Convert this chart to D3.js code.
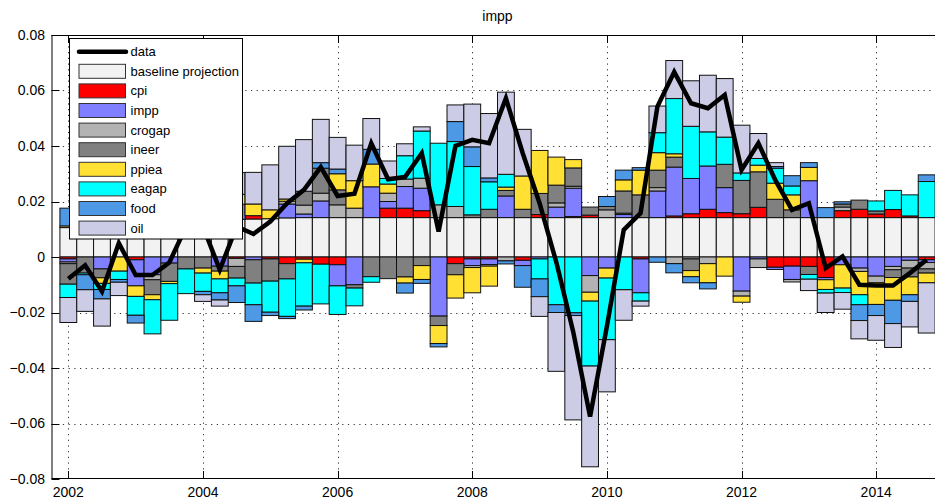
<!DOCTYPE html>
<html>
<head>
<meta charset="utf-8">
<script src="https://cdn.jsdelivr.net/npm/d3@7"></script>
<style>
  body { margin: 0; background: #fff; }
  text { font-family: "Liberation Sans", Arial, sans-serif; fill: #000; }
</style>
</head>
<body>
<div id="chart"></div>
<script>
const quarters = [
  '2002Q1','2002Q2','2002Q3','2002Q4','2003Q1','2003Q2','2003Q3','2003Q4',
  '2004Q1','2004Q2','2004Q3','2004Q4','2005Q1','2005Q2','2005Q3','2005Q4',
  '2006Q1','2006Q2','2006Q3','2006Q4','2007Q1','2007Q2','2007Q3','2007Q4',
  '2008Q1','2008Q2','2008Q3','2008Q4','2009Q1','2009Q2','2009Q3','2009Q4',
  '2010Q1','2010Q2','2010Q3','2010Q4','2011Q1','2011Q2','2011Q3','2011Q4',
  '2012Q1','2012Q2','2012Q3','2012Q4','2013Q1','2013Q2','2013Q3','2013Q4',
  '2014Q1','2014Q2','2014Q3','2014Q4'
];

const baseline = [0.0106,0.011,0.0115,0.012,0.0124,0.0127,0.013,0.0132,0.0134,0.0135,0.0136,0.0137,0.0138,0.0141,
  0.0142,0.0142,0.0142,0.0142,0.0142,0.0142,0.0142,0.0142,0.0142,0.0142,0.0142,0.0142,0.0142,0.0142,0.0142,0.0142,
  0.0142,0.0142,0.0142,0.0142,0.0142,0.0142,0.0142,0.0142,0.0142,0.0142,0.0142,0.0142,0.0142,0.0142,0.0142,0.0142,
  0.0142,0.0142,0.0142,0.0142,0.0142,0.0142];
const cpi = [-0.0007,0,0.0005,0,-0.001,0,0,0,0.0026,0.0005,-0.0005,0.0012,-0.0007,-0.0024,-0.0008,-0.0026,
  -0.0028,0,0,0.0034,0.0034,0.0025,0,-0.0024,-0.0007,-0.0007,0,-0.0012,0.0011,0,0.0004,0.0009,
  0,0,-0.0007,0,0.0006,0.0014,0.003,0.0018,0.0014,0.0037,-0.0037,-0.0033,-0.0034,-0.0074,0.0025,0.003,
  0.0013,0.0029,0.0006,-0.001];
const impp = [-0.0011,0.002,-0.0043,0.003,-0.0094,-0.0064,-0.0022,0.003,0.007,-0.0033,0.0054,-0.001,0,0.005,0.0013,0.006,
  -0.0076,-0.01,0.0111,0.0024,0.0078,0.0081,-0.0213,0,-0.0024,-0.002,0.0078,-0.0019,-0.0007,0.0038,0.0102,-0.0067,
  -0.004,0.0011,-0.0122,0.0096,0.0176,0.0127,0.0156,0.009,-0.0123,-0.0007,-0.0008,-0.0048,0.0133,-0.0008,-0.0028,-0.004,
  -0.0069,-0.0034,-0.0012,-0.001];
const crogap = [-0.0006,0.0016,0.0005,0.0014,0,-0.0018,0.002,0,0.004,0,-0.0029,0,0,0.001,0.0032,0.0028,
  0.0046,0.0034,0,0.003,0.0027,0.0036,0.0046,0.004,-0.0007,-0.0006,-0.0014,0,0,0.0015,0.0007,-0.006,
  0.0028,0.0005,0,0.0012,-0.0024,-0.0007,-0.0024,0,-0.0018,-0.0031,0,-0.0009,0,0,0.0013,-0.0012,
  -0.0024,-0.0012,-0.0028,-0.0023];
const ineer = [-0.0074,-0.0058,-0.0032,0.0025,0.0024,-0.0054,-0.0066,-0.0043,-0.004,-0.0018,-0.0042,-0.0084,-0.008,-0.0055,0.005,0.009,
  0.0054,-0.0012,-0.0071,-0.0078,-0.0072,-0.0031,-0.0034,-0.004,0.001,0.003,0.002,0.003,0.0076,0.0064,0.0066,0.0029,
  0.0012,0.008,0.0082,0.0063,0.0036,-0.0042,0,0.0084,0.012,0.0128,0.0066,0.0028,-0.0029,0,0.0011,0.0033,
  0.0011,-0.0028,-0.0032,-0.0015];
const ppiea = [0.0006,0.002,-0.002,-0.0051,-0.0038,-0.0018,-0.0008,0.003,-0.0018,-0.0028,0.0036,0.0042,0.0032,0.0008,-0.0013,0,
  0.0058,0.0099,0.0082,0.0033,-0.0022,-0.005,-0.0065,-0.0084,-0.0091,-0.0072,0.0012,0.012,0.0155,0.0101,0.003,-0.0032,
  -0.0036,0.004,0.0089,0.0063,0.0012,-0.0022,-0.0069,-0.0069,-0.0022,0.0024,0.0058,0.0054,0.0048,-0.0035,-0.0084,-0.0084,
  -0.0078,-0.0082,-0.0064,-0.0035];
const eagap = [-0.0048,-0.0006,-0.0022,-0.003,-0.0068,-0.0123,-0.0132,-0.0089,-0.0066,-0.005,-0.0028,-0.0078,-0.0112,-0.0135,-0.0156,-0.0143,
  -0.0103,-0.0064,-0.002,0.002,0.0084,0.017,0.0222,0.0234,0.0174,0.0099,0.0046,0,-0.0072,-0.0172,-0.0201,-0.0234,
  -0.0222,-0.0118,-0.003,0.0072,0.0199,0.0188,0.0123,0.0098,0.0027,0.0024,0.0054,0.0032,-0.0017,-0.0013,-0.0016,-0.0036,
  0.0036,0.0069,0.0076,0.013];
const food = [0.0064,-0.0054,-0.0034,-0.001,-0.0028,0.003,0,0,-0.0012,-0.0026,-0.006,-0.006,-0.0012,-0.0008,-0.0014,0.002,
  0.0017,0,0.0053,0,-0.0036,-0.0014,-0.0012,0.0072,0.0071,0.0014,-0.0011,-0.0078,-0.0064,-0.0028,-0.001,0,
  0.0036,0.0035,0.0009,-0.0019,-0.0033,-0.0022,-0.0022,0,0,0,0.0006,0.0037,0.0017,0.0036,0.0008,-0.0057,
  -0.004,-0.0084,-0.0024,0.0024];
const oil = [-0.009,-0.0078,-0.0098,-0.0048,0.003,0.006,0.0058,0.005,-0.0024,-0.0022,0.0078,0.0114,0.0162,0.019,0.0186,0.0156,
  0.0114,0.0128,0.0111,0.0063,0.0043,0.0015,0,0.006,0.0154,0.0232,0.0296,0.0168,-0.0071,-0.0212,-0.0376,-0.0363,
  -0.0188,-0.011,-0.0018,0.0096,0.0137,0.0164,0.0204,0.0211,0.0172,0.009,0.0014,0,-0.0041,-0.007,-0.006,-0.0066,
  -0.0089,-0.0086,-0.0092,-0.0181];
const dataLine = [-0.0078,-0.003,-0.0124,0.005,-0.0065,-0.0065,-0.002,0.011,0.011,-0.0046,0.011,0.0083,0.0128,0.0194,0.0242,0.0324,
  0.022,0.0228,0.041,0.028,0.0288,0.0374,0.0092,0.04,0.0422,0.041,0.0572,0.0374,0.0194,-0.002,-0.027,-0.0575,
  -0.025,0.0098,0.0158,0.0542,0.0667,0.0554,0.0536,0.0584,0.0314,0.041,0.0278,0.017,0.0194,-0.004,0.0002,-0.01,
  -0.0103,-0.0103,-0.0058,-0.001];

const seriesNames = ['baseline projection','cpi','impp','crogap','ineer','ppiea','eagap','food','oil'];
const seriesValues = [baseline, cpi, impp, crogap, ineer, ppiea, eagap, food, oil];
const seriesColors = ['#f2f2f2','#ff0000','#7f7fff','#b3b3b3','#808080','#ffe033','#00ffff','#4d99e6','#ccccE6'];
const yTicks = [-0.08,-0.06,-0.04,-0.02,0,0.02,0.04,0.06,0.08];
const xTicks = [2002,2004,2006,2008,2010,2012,2014];

const width = 935, height = 500;
const plot = {left: 51.5, right: 943.5, top: 35, bottom: 479};

const svg = d3.select('#chart').append('svg')
  .attr('width', width)
  .attr('height', height);

svg.append('rect').attr('width', width).attr('height', height).attr('fill', '#fff');

const x = d3.scaleLinear().domain([2001.75, 2015]).range([plot.left, plot.right]);
const y = d3.scaleLinear().domain([-0.08, 0.08]).range([plot.bottom, plot.top]);

const times = quarters.map(q => +q.slice(0, 4) + (+q.slice(5) - 1) / 4);
const rows = times.map((t, i) => {
  let r = {t: t};
  seriesNames.forEach((n, k) => r[n] = seriesValues[k][i]);
  return r;
});

// grid
const grid = svg.append('g')
  .attr('stroke', '#333')
  .attr('stroke-width', 1)
  .attr('stroke-dasharray', '1.2,4.5');
grid.selectAll('.gy')
  .data(yTicks.filter(d => d > -0.08 && d < 0.08))
  .enter().append('line')
  .attr('x1', plot.left).attr('x2', plot.right)
  .attr('y1', d => Math.round(y(d)) + 0.5).attr('y2', d => Math.round(y(d)) + 0.5);
grid.selectAll('.gx')
  .data(xTicks)
  .enter().append('line')
  .attr('x1', d => Math.round(x(d)) + 0.5).attr('x2', d => Math.round(x(d)) + 0.5)
  .attr('y1', plot.top).attr('y2', plot.bottom);

// stacked bars
const stack = d3.stack().keys(seriesNames).offset(d3.stackOffsetDiverging);
const stacked = stack(rows);
const barW = x(2002.25) - x(2002);

const layers = svg.append('g').selectAll('g')
  .data(stacked)
  .enter().append('g')
  .attr('fill', (d, i) => seriesColors[i]);

layers.selectAll('rect')
  .data(d => d.filter(p => Math.abs(p[1] - p[0]) > 1e-9))
  .enter().append('rect')
  .attr('x', d => x(d.data.t) - barW / 2)
  .attr('width', barW)
  .attr('y', d => y(Math.max(d[0], d[1])))
  .attr('height', d => Math.abs(y(d[0]) - y(d[1])))
  .attr('stroke', '#111')
  .attr('stroke-width', 1);

// data line
const line = d3.line()
  .x((d, i) => x(times[i]))
  .y(d => y(d));

svg.append('path')
  .datum(dataLine)
  .attr('d', line)
  .attr('fill', 'none')
  .attr('stroke', '#000')
  .attr('stroke-width', 4.5);

// axes box and ticks
const axes = svg.append('g').attr('stroke', '#000').attr('stroke-width', 1);
axes.append('line').attr('x1', plot.left).attr('x2', plot.right).attr('y1', plot.top + 0.5).attr('y2', plot.top + 0.5);
axes.append('line').attr('x1', plot.left).attr('x2', plot.right).attr('y1', plot.bottom - 0.5).attr('y2', plot.bottom - 0.5);
axes.append('line').attr('x1', plot.left + 0.5).attr('x2', plot.left + 0.5).attr('y1', plot.top).attr('y2', plot.bottom);

axes.selectAll('.ty')
  .data(yTicks)
  .enter().append('line')
  .attr('x1', plot.left).attr('x2', plot.left + 8)
  .attr('y1', d => Math.round(y(d)) + 0.5).attr('y2', d => Math.round(y(d)) + 0.5);
axes.selectAll('.txb')
  .data(xTicks)
  .enter().append('line')
  .attr('x1', d => Math.round(x(d)) + 0.5).attr('x2', d => Math.round(x(d)) + 0.5)
  .attr('y1', plot.bottom).attr('y2', plot.bottom - 8);
axes.selectAll('.txt')
  .data(xTicks)
  .enter().append('line')
  .attr('x1', d => Math.round(x(d)) + 0.5).attr('x2', d => Math.round(x(d)) + 0.5)
  .attr('y1', plot.top).attr('y2', plot.top + 8);

svg.append('g').selectAll('text')
  .data(yTicks)
  .enter().append('text')
  .attr('x', 45)
  .attr('y', d => y(d))
  .attr('dy', '0.35em')
  .attr('text-anchor', 'end')
  .style('font-size', '14px')
  .text(d => d3.format('')(d === 0 ? 0 : d));

svg.append('g').selectAll('text')
  .data(xTicks)
  .enter().append('text')
  .attr('x', d => x(d))
  .attr('y', 496.5)
  .attr('text-anchor', 'middle')
  .style('font-size', '14px')
  .text(d => d);

svg.append('text')
  .attr('x', (plot.left + plot.right) / 2)
  .attr('y', 21)
  .attr('text-anchor', 'middle')
  .style('font-size', '14px')
  .text('impp');

// legend
const legend = svg.append('g');
legend.append('rect')
  .attr('x', 69.5).attr('y', 38.5)
  .attr('width', 173).attr('height', 200.5)
  .attr('fill', '#fff').attr('stroke', '#000');

const rowY = i => 51.7 + i * 19.6;

legend.append('line')
  .attr('x1', 79).attr('x2', 126)
  .attr('y1', rowY(0)).attr('y2', rowY(0))
  .attr('stroke', '#000').attr('stroke-width', 4.5)
  .attr('stroke-linecap', 'round');

legend.selectAll('.sw')
  .data(seriesNames)
  .enter().append('rect')
  .attr('x', 79).attr('y', (d, i) => rowY(i + 1) - 7)
  .attr('width', 46.5).attr('height', 14)
  .attr('fill', (d, i) => seriesColors[i])
  .attr('stroke', '#333').attr('stroke-width', 1);

legend.selectAll('.lt')
  .data(['data'].concat(seriesNames))
  .enter().append('text')
  .attr('x', 130.5)
  .attr('y', (d, i) => rowY(i))
  .attr('dy', '0.35em')
  .style('font-size', '13px')
  .text(d => d);
</script>
</body>
</html>
